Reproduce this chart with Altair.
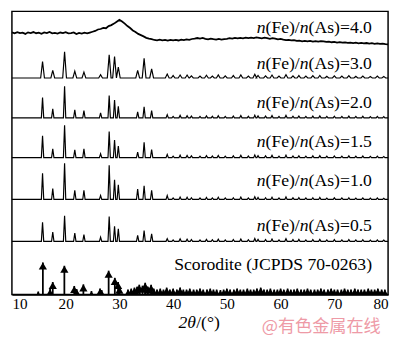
import altair as alt
import pandas as pd

# ---------------- data ----------------
# amorphous pattern n(Fe)/n(As)=4.0, sampled every 0.5 deg from 10 to 80
amorph_t0, amorph_step = 10.0, 0.5
amorph_y = [
    267.5, 266.5, 267.8, 266.8, 267.2, 266.0, 267.6, 266.9, 267.9, 266.7,
    267.3, 266.2, 267.5, 266.8, 268.0, 266.6, 267.0, 266.3, 267.4, 266.9,
    267.8, 266.5, 266.9, 267.5, 265.8, 267.0, 266.4, 267.2, 266.6, 267.4,
    268.2, 269.0, 270.5, 271.0, 272.2, 271.8, 274.0, 275.0, 276.5, 278.5,
    280.3, 278.6, 276.5, 274.0, 272.0, 269.5, 268.0, 266.0, 264.8, 263.5,
    262.0, 261.2, 260.6, 259.8, 259.5, 260.2, 259.4, 259.9, 259.2, 260.0,
    259.4, 259.9, 259.3, 260.2, 259.6, 260.4, 260.0, 260.8, 261.2, 261.8,
    261.3, 261.9, 261.0, 260.4, 261.2, 260.6, 260.2, 260.9, 260.1, 260.7,
    261.0, 261.6, 261.2, 261.9, 261.4, 262.0, 261.5, 262.2, 261.6, 262.3,
    261.7, 262.4, 262.0, 261.5, 262.1, 261.6, 261.0, 261.7, 261.2, 260.4,
    260.9, 260.1, 259.6, 259.9, 259.3, 259.7, 258.8, 259.2, 258.5, 258.9,
    258.3, 258.8, 258.2, 258.7, 258.1, 258.6, 258.3, 257.8, 258.2, 257.5,
    257.9, 257.2, 257.6, 257.0, 257.4, 256.8, 257.2, 256.7, 257.0, 256.4,
    256.9, 256.3, 256.7, 256.1, 256.5, 255.9, 256.3, 255.8, 256.0, 255.5,
    255.2,
]

# crystalline patterns: main reflections (2theta) and heights per sample
peak_pos = [15.7, 17.6, 19.8, 21.7, 23.4, 26.5, 28.1, 29.1, 29.8, 33.4, 34.6, 36.0, 38.9]
h_30 = [16.7, 7.7, 26.7, 7.0, 6.0, 3.3, 23.7, 22.0, 11.0, 7.7, 20.0, 9.3, 4.0]
h_20 = [20.7, 9.3, 32.3, 8.3, 7.3, 5.0, 22.7, 18.3, 11.7, 6.0, 11.3, 7.3, 3.3]
h_15 = [22.3, 9.0, 33.0, 8.0, 9.0, 4.0, 26.7, 18.0, 11.7, 5.7, 15.7, 8.3, 3.3]
h_10 = [26.7, 11.0, 37.0, 9.3, 9.3, 4.0, 35.0, 20.0, 15.0, 10.7, 14.0, 9.3, 4.0]
h_05 = [19.3, 9.3, 26.0, 8.3, 6.7, 4.3, 25.3, 15.3, 12.7, 6.0, 11.0, 7.7, 2.7]

# weak reflections above 40 deg
minor_pos = [40.0, 41.3, 42.6, 43.4, 45.0, 46.2, 47.3, 48.4, 49.7, 51.2,
             52.6, 54.0, 55.2, 55.8, 57.2, 58.4, 59.7, 61.0, 62.3, 63.4,
             64.7, 66.0, 67.3, 68.6, 70.0, 71.4, 72.7, 74.0, 75.3, 76.7,
             78.0, 79.2]
minor_h = [1.5, 2.5, 2.2, 1.8, 1.5, 2.0, 1.6, 2.2, 1.5, 1.8,
           2.4, 1.6, 2.8, 2.0, 1.8, 2.3, 1.5, 2.6, 1.7, 1.9,
           1.5, 1.8, 2.0, 1.4, 1.7, 1.5, 1.8, 1.4, 1.6, 1.3,
           1.5, 1.2]
minor_h_30 = [2.5, 3.0, 3.0, 2.2, 2.0, 2.8, 2.0, 3.2, 2.2, 2.5,
              3.2, 2.0, 3.8, 2.6, 2.2, 3.0, 2.0, 3.4, 2.2, 2.5,
              2.0, 2.4, 2.6, 1.8, 2.2, 2.0, 2.3, 1.8, 2.0, 1.6,
              1.9, 1.6]

ratios = ["4.0", "3.0", "2.0", "1.5", "1.0", "0.5"]
baselines = {"3.0": 221.0, "2.0": 180.3, "1.5": 139.7, "1.0": 97.0, "0.5": 54.3}

# scorodite reference pattern (JCPDS 70-0263)
stick_pos = [14.9, 15.76, 17.1, 17.6, 19.76, 21.6, 22.05, 23.3, 24.8, 26.4, 26.7,
             28.0, 29.15, 29.76, 30.0]
stick_h = [3.0, 32.7, 5.5, 12.7, 29.3, 8.7, 5.5, 10.3, 3.5, 6.0, 4.5,
           24.3, 17.0, 12.7, 8.0]
small_pos = [31.6, 32.2, 32.8, 33.3, 33.7, 34.3, 34.8, 35.3, 35.9, 36.4,
             37.0, 37.6, 38.2, 38.8, 39.4, 40.0, 40.7, 41.3, 41.9, 42.5,
             43.1, 43.8, 44.4, 45.0, 45.6, 46.3, 46.9, 47.5, 48.1, 48.8,
             49.4, 50.0, 50.6, 51.3, 51.9, 52.5, 53.1, 53.8, 54.4, 55.0,
             55.6, 56.3, 56.9, 57.5, 58.1, 58.8, 59.4, 60.0, 60.6, 61.3,
             61.9, 62.5, 63.1, 63.8, 64.4, 65.0, 65.6, 66.3, 66.9, 67.5,
             68.1, 68.8, 69.4, 70.0, 70.6, 71.3, 71.9, 72.5, 73.1, 73.8,
             74.4, 75.0, 75.6, 76.3, 76.9, 77.5, 78.1, 78.8, 79.4]
small_h = [5, 6, 7, 8, 10, 9, 12, 8, 10, 6,
           5, 6, 5, 7, 5, 6, 5, 7, 5, 5,
           6, 5, 5, 6, 5, 5, 6, 5, 5, 4.5,
           5, 6, 5, 5, 6, 5, 5, 6, 5, 5,
           6, 7, 5, 5, 6, 5, 5, 6, 5, 6,
           5, 5, 6, 5, 5, 6, 5, 5, 5, 6,
           5, 5, 6, 5, 5, 5, 6, 5, 5, 6,
           5, 5, 5, 6, 5, 5, 6, 5, 5]

# annotation anchors (data units)
label_t = 55.55
label_y = [267.0, 230.3, 190.3, 150.3, 110.3, 65.3]
ref_label = "Scorodite (JCPDS 70-0263)"
ref_label_t, ref_label_y = 40.2, 25.3
watermark = "@有色金属在线"

# ---------------- build tables ----------------
rows = []
for i, v in enumerate(amorph_y):
    rows.append({"t": amorph_t0 + amorph_step * i, "y": v, "s": "4.0", "o": i})

heights = {"3.0": (h_30, minor_h_30, 0.35), "2.0": (h_20, minor_h, 0.22),
           "1.5": (h_15, minor_h, 0.22), "1.0": (h_10, minor_h, 0.22),
           "0.5": (h_05, minor_h, 0.22)}
for s, (hm, hmi, w) in heights.items():
    base = baselines[s]
    pk = sorted(list(zip(peak_pos, hm)) + list(zip(minor_pos, hmi)))
    pts = [(10.0, base)]
    for p, h in pk:
        pts += [(p - w, base), (p, base + h), (p + w, base)]
    pts.append((80.0, base))
    for j, (t, y) in enumerate(pts):
        rows.append({"t": t, "y": y, "s": s, "o": j})
traces = pd.DataFrame(rows)

assert len(small_pos) == len(small_h)
sticks = pd.DataFrame({"t": stick_pos + small_pos,
                       "h": stick_h + [float(v) for v in small_h]})
sticks["b"] = 0.0

labels = pd.DataFrame({"t": [label_t] * len(ratios), "y": label_y,
                       "tail": ["(As)=" + r for r in ratios]})

FONT = "Liberation Serif, Times New Roman, serif"
FS = 18

x_enc = alt.X("t:Q", scale=alt.Scale(domain=[10, 80], nice=False, zero=False),
              axis=alt.Axis(values=[10, 20, 30, 40, 50, 60, 70, 80], title=None,
                            ticks=False, labelFlush=True, labelFontSize=15.5,
                            labelFont=FONT, labelColor="black", domainColor="black",
                            domainWidth=1.5, grid=False, labelPadding=2, format="d"))
y_scale = alt.Scale(domain=[0, 289], nice=False, zero=False)

lines = alt.Chart(traces).mark_line(color="black").encode(
    x=x_enc, y=alt.Y("y:Q", scale=y_scale, axis=None),
    detail="s:N", order="o:Q",
    strokeWidth=alt.condition(alt.datum.s == "4.0", alt.value(1.8), alt.value(1.2)),
)

rules = alt.Chart(sticks).mark_rule(color="black", strokeWidth=1.8).encode(
    x="t:Q", y=alt.Y("b:Q", scale=y_scale), y2="h:Q")
heads = alt.Chart(sticks).mark_point(shape="triangle-up", filled=True, size=70,
                                     color="black", opacity=1, yOffset=3.6, clip=True).encode(
    x="t:Q", y=alt.Y("h:Q", scale=y_scale))

def seg(text=None, field=None, dx=0, italic=False):
    m = alt.Chart(labels).mark_text(align="left", baseline="alphabetic", font=FONT,
                                    fontSize=FS, color="black", dx=dx,
                                    fontStyle="italic" if italic else "normal",
                                    **({"text": text} if text else {}))
    enc = dict(x="t:Q", y=alt.Y("y:Q", scale=y_scale))
    if field:
        enc["text"] = alt.Text(field + ":N")
    return m.encode(**enc)

t_n1 = seg(text="n", italic=True, dx=0)
t_fe = seg(text="(Fe)/", dx=9)
t_n2 = seg(text="n", italic=True, dx=44)
t_tail = seg(field="tail", dx=53)

ref_df = pd.DataFrame({"t": [ref_label_t], "y": [ref_label_y], "txt": [ref_label]})
t_ref = alt.Chart(ref_df).mark_text(align="left", baseline="alphabetic", font=FONT,
                                    fontSize=FS, color="black").encode(
    x="t:Q", y=alt.Y("y:Q", scale=y_scale), text="txt:N")

xt_df = pd.DataFrame({"t": [41.0], "y": [-34.0]})
t_x1 = alt.Chart(xt_df).mark_text(align="left", baseline="alphabetic", font=FONT,
                                  fontSize=FS, fontStyle="italic", color="black",
                                  text="2θ").encode(x="t:Q", y=alt.Y("y:Q", scale=y_scale))
t_x2 = alt.Chart(xt_df).mark_text(align="left", baseline="alphabetic", font=FONT,
                                  fontSize=FS, color="black", dx=18,
                                  text="/(°)").encode(x="t:Q", y=alt.Y("y:Q", scale=y_scale))

wm_df = pd.DataFrame({"t": [56.5], "y": [-38.0], "txt": [watermark]})
t_wm = alt.Chart(wm_df).mark_text(align="left", baseline="alphabetic",
                                  font="Noto Sans CJK SC", fontSize=17.5,
                                  color="#ee9aa6").encode(
    x="t:Q", y=alt.Y("y:Q", scale=y_scale), text="txt:N")

chart = alt.layer(lines, rules, heads, t_n1, t_fe, t_n2, t_tail, t_ref,
                  t_x1, t_x2, t_wm).properties(
    width=384, height=289, padding=0, background="white"
).configure_view(stroke="black", strokeWidth=1.5)

chart.save("out.html", embed_options={"renderer": "svg", "actions": False})
